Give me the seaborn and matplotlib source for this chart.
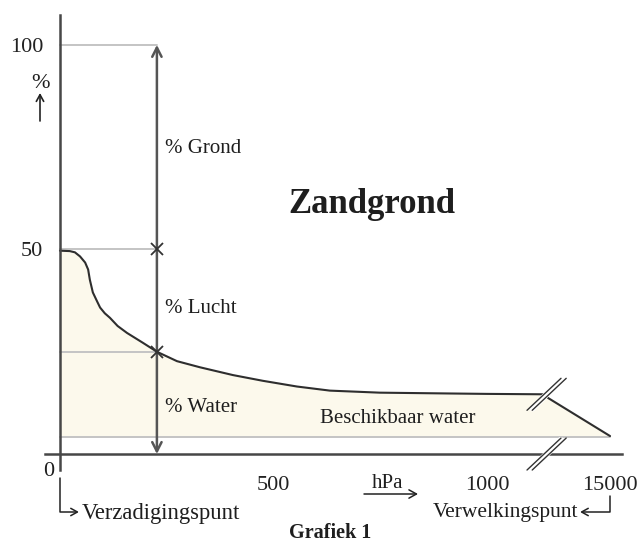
import numpy as np
import matplotlib
matplotlib.use("Agg")
import matplotlib.pyplot as plt
from matplotlib.lines import Line2D
import seaborn as sns

# ---- data ----
pressure_hpa = [0, 23, 35, 47, 59, 66, 70, 77, 87, 94, 105, 117, 135, 157, 194,
                227, 274, 328, 405, 475, 555, 632, 749, 913, 1000, 7600, 7950,
                15000]
water_pct = [49.7, 49.6, 49.3, 48.3, 46.8, 45.1, 42.6, 39.5, 37.3, 35.8, 34.4,
             33.3, 31.3, 29.6, 27.2, 25.0, 22.7, 21.2, 19.3, 17.9, 16.5, 15.5,
             15.0, 14.8, 14.7, 14.6, 13.7, 4.4]
wilting_pct = 4.2
sample_hpa = 227
pore_pct = 50
water_at_sample = 25
total_pct = 100
xtick_vals = [500, 1000, 15000]
xtick_labels = ["500", "1000", "15000"]
ytick_vals = [50, 100]
ytick_labels = ["50", "100"]
break_hpa = 7780

sns.set_theme(style="white")
plt.rcParams["font.family"] = ["Liberation Serif", "DejaVu Serif"]

W, H = 638, 542
fig = plt.figure(figsize=(W / 100, H / 100), dpi=100)
ax = fig.add_axes([45 / W, 72 / H, (622 - 45) / W, (470 - 15) / H])

K = 288.0 / 14000.0


def fwd(x):
    x = np.asarray(x, dtype=float)
    return np.where(x <= 1000, x, 1000 + (x - 1000) * K)


def inv(y):
    y = np.asarray(y, dtype=float)
    return np.where(y <= 1000, y, 1000 + (y - 1000) / K)


ax.set_xscale("function", functions=(fwd, inv))
ax.set_xlim(-35, float(inv(1316)))
ax.set_ylim(-3.9, 107.3)

axis_c = "#474747"
grey = "#c4c4c4"

# fill + curve
ax.fill_between(pressure_hpa, water_pct, wilting_pct, color="#fcf9ec", zorder=1, lw=0)
ax.plot([0, 15000], [wilting_pct, wilting_pct], color=grey, lw=1.4, zorder=2)
for v in (total_pct, pore_pct, water_at_sample):
    ax.plot([0, sample_hpa], [v, v], color=grey, lw=1.4, zorder=2)
sns.lineplot(x=pressure_hpa, y=water_pct, ax=ax, color="#2e2e2e", lw=1.5,
             zorder=4, sort=False)

# vertical double arrow
ax.annotate("", xy=(sample_hpa, total_pct), xytext=(sample_hpa, 0),
            arrowprops=dict(arrowstyle="<->,head_length=0.55,head_width=0.28",
                            color="#555555", lw=1.8, shrinkA=0, shrinkB=0),
            zorder=3)
ax.plot([sample_hpa, sample_hpa], [pore_pct, water_at_sample], ls="none",
        marker="x", ms=9, mew=1.3, color="#333333", zorder=5)

# spines through origin
for s in ("top", "right"):
    ax.spines[s].set_visible(False)
for s in ("left", "bottom"):
    ax.spines[s].set_position(("data", 0))
    ax.spines[s].set_color(axis_c)
    ax.spines[s].set_linewidth(1.8)
    ax.spines[s].set_zorder(6)

ax.set_xticks(xtick_vals)
ax.set_xticklabels(xtick_labels)
ax.set_yticks(ytick_vals)
ax.set_yticklabels(ytick_labels)
ax.minorticks_off()
ax.tick_params(axis="x", direction="out", length=8.5, width=1.2, color=axis_c,
               pad=7, labelsize=16, labelcolor="#222222")
ax.tick_params(axis="y", direction="out", length=11, width=1.2, color=axis_c,
               pad=1, labelsize=16, labelcolor="#222222")
ax.grid(False)
ax.set_facecolor("none")
fig.patch.set_facecolor("white")

# break marks
fig.canvas.draw()
for yv in (14.6, 0):
    cx, cy = ax.transData.transform((break_hpa, yv))
    x0, y0, x1, y1 = cx - 17, cy - 16, cx + 17, cy + 16
    fig.add_artist(Line2D([x0 + 3, x1 - 3], [y0 + 2, y1 - 2], color="white",
                          lw=4.5, transform=None, zorder=10))
    for off in (-2.6, 2.6):
        fig.add_artist(Line2D([x0 + off, x1 + off], [y0, y1], color="#333333",
                              lw=1.0, transform=None, zorder=11))


def P(x, y):
    return (x, H - y)


tk = dict(xycoords="figure pixels", color="#1e1e1e", annotation_clip=False)
ax.annotate("0", P(49, 471), ha="center", va="center", fontsize=16, **tk)
ax.annotate("%", P(40, 84), ha="center", va="center", fontsize=16, **tk)
ax.annotate("", xy=P(40, 93), xytext=P(40, 121), xycoords="figure pixels",
            textcoords="figure pixels",
            arrowprops=dict(arrowstyle="->,head_length=0.4,head_width=0.22",
                            color="#222222", lw=1.2, shrinkA=0, shrinkB=0))

ax.annotate("% Grond", P(165, 153), ha="left", va="baseline", fontsize=15, **tk)
ax.annotate("% Lucht", P(165, 313), ha="left", va="baseline", fontsize=15, **tk)
ax.annotate("% Water", P(165, 412), ha="left", va="baseline", fontsize=15, **tk)
ax.annotate("Beschikbaar water", P(320, 423), ha="left", va="baseline",
            fontsize=15, **tk)
ax.annotate("Zandgrond", P(372, 213), ha="center", va="baseline", fontsize=25,
            fontweight="bold", **tk)
ax.annotate("Grafiek 1", P(330, 538), ha="center", va="baseline", fontsize=14.5,
            fontweight="bold", **tk)
ax.annotate("hPa", P(388, 488), ha="center", va="baseline", fontsize=15, **tk)
ax.annotate("", xy=P(418, 494), xytext=P(364, 494), xycoords="figure pixels",
            textcoords="figure pixels",
            arrowprops=dict(arrowstyle="->,head_length=0.45,head_width=0.25",
                            color="#222222", lw=1.1, shrinkA=0, shrinkB=0))

ax.annotate("Verzadigingspunt", P(82, 519), ha="left", va="baseline",
            fontsize=16.3, **tk)
ax.annotate("", xy=P(79, 512), xytext=P(60, 478), xycoords="figure pixels",
            textcoords="figure pixels",
            arrowprops=dict(arrowstyle="->,head_length=0.4,head_width=0.22",
                            connectionstyle="angle,angleA=-90,angleB=180,rad=0",
                            color="#222222", lw=1.1, shrinkA=0, shrinkB=0))
ax.annotate("Verwelkingspunt", P(578, 517), ha="right", va="baseline",
            fontsize=15.5, **tk)
ax.annotate("", xy=P(580, 512), xytext=P(610, 496), xycoords="figure pixels",
            textcoords="figure pixels",
            arrowprops=dict(arrowstyle="->,head_length=0.4,head_width=0.22",
                            connectionstyle="angle,angleA=-90,angleB=0,rad=0",
                            color="#222222", lw=1.1, shrinkA=0, shrinkB=0))

fig.savefig("out.png", dpi=100)
